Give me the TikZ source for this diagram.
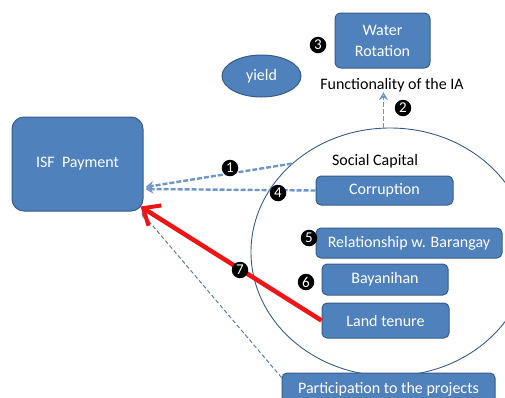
\documentclass[tikz,border=0pt]{standalone}
\usepackage{fontspec}
\setmainfont{Carlito}
\usetikzlibrary{shapes.geometric,arrows.meta}
\definecolor{boxfill}{RGB}{79,129,189}
\definecolor{boxline}{RGB}{56,93,138}
\definecolor{dashblue}{RGB}{110,150,200}
\definecolor{redarrow}{RGB}{240,20,20}
\tikzset{
  bbox/.style={draw=boxline, line width=1pt, fill=boxfill, rounded corners=5pt, text=white, font=\fontsize{16}{20}\selectfont, inner sep=0pt},
  numdot/.style={circle, fill=black, text=white, inner sep=0pt, minimum size=16.5pt, font=\fontsize{15}{15}\selectfont},
  thickdash/.style={draw=dashblue, line width=2.4pt, dash pattern=on 5pt off 2pt, -{Stealth[length=8pt,width=9pt,open]}},
  thindash/.style={draw=boxline!80!white, line width=1pt, dash pattern=on 4pt off 2.5pt, -{Stealth[length=6pt,width=6pt]}},
  plain/.style={font=\fontsize{16}{20}\selectfont, inner sep=0pt}
}
\begin{document}
\begin{tikzpicture}[x=1pt,y=-1pt]
\useasboundingbox[fill=white] (0,0) rectangle (505,397);
% ellipse
\node[ellipse, draw=boxline, line width=0.9pt, minimum width=278pt, minimum height=248pt, inner sep=0pt] (sc) at (390,252) {};
% nodes
\node[bbox, rounded corners=12pt, minimum width=131pt, minimum height=94pt] (isf) at (77.5,164) {ISF\ \ Payment};
\node[bbox, minimum width=95pt, minimum height=55pt, align=center, rounded corners=6pt] (water) at (382.5,40.5) {Water\\[1pt]Rotation};
\node[ellipse, draw=boxline, line width=1pt, fill=boxfill, text=white, font=\fontsize{16}{20}\selectfont, minimum width=79pt, minimum height=42pt, inner sep=0pt] (yield) at (261.5,76) {yield};
\node[plain] (func) at (392,85) {Functionality of the IA};
\node[plain] (soc) at (375,161) {Social Capital};
\node[bbox, minimum width=137pt, minimum height=29pt] (corr) at (384.5,190.5) {Corruption};
\node[bbox, minimum width=186pt, minimum height=30pt] (rel) at (409,243) {Relationship w. Barangay};
\node[bbox, minimum width=126pt, minimum height=31pt] (bay) at (385,279.5) {Bayanihan};
\node[bbox, minimum width=127pt, minimum height=35pt] (land) at (385.5,320.5) {Land tenure};
\node[bbox, minimum width=213pt, minimum height=32pt] (part) at (388.5,389) {Participation to the projects};
% connectors
\draw[thickdash] (sc.138) -- ([xshift=2pt,yshift=-23pt]isf.east);
\draw[thickdash] (corr.west) -- ([xshift=2pt,yshift=-25pt]isf.east);
\draw[thickdash, line width=1.8pt] (sc.93) -- (sc.93 |- func.south);
\draw[thindash] ([yshift=-5pt]part.north west) -- ([xshift=-2pt,yshift=-1pt]isf.south east);
\draw[draw=redarrow, line width=4.5pt, -{Straight Barb[length=14pt,width=24pt,line width=4pt]}] (land.west) -- ([xshift=-3pt,yshift=5pt]isf.south east);
% numbers
\node[numdot] (n1) at (230,168) {1};
\node[numdot] (n2) at (403,108) {2};
\node[numdot] (n3) at (318,45) {3};
\node[numdot] (n4) at (278,193) {4};
\node[numdot] (n5) at (309,238) {5};
\node[numdot] (n6) at (306,282) {6};
\node[numdot] (n7) at (240,270) {7};
\end{tikzpicture}
\end{document}
